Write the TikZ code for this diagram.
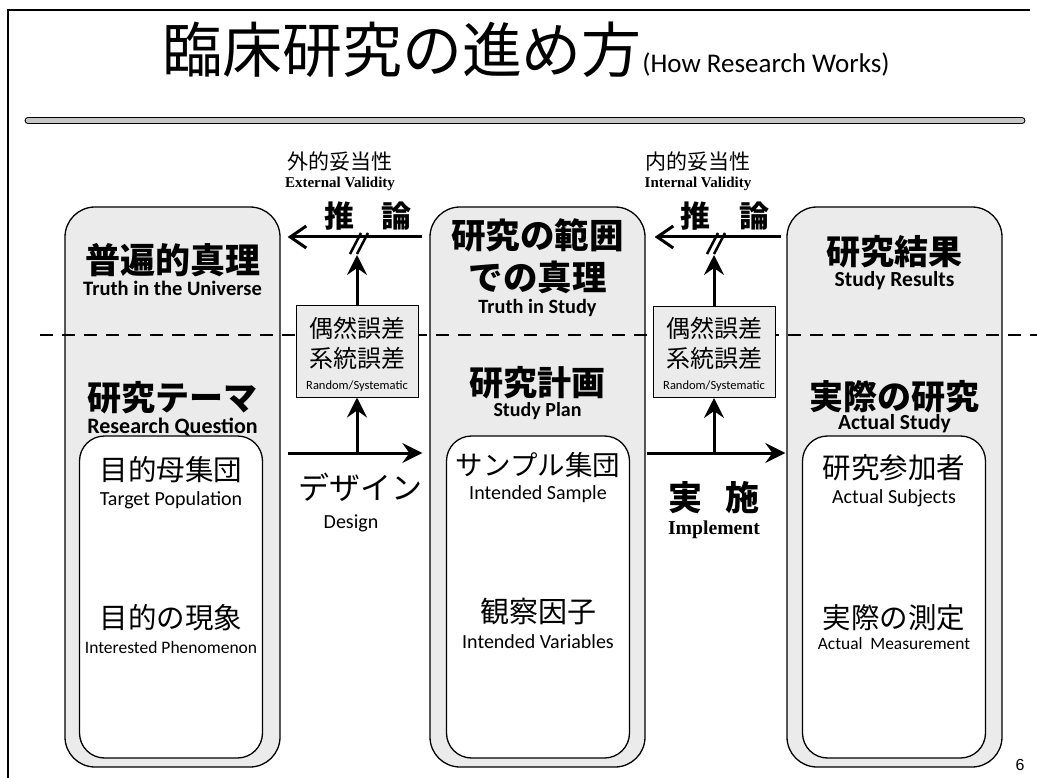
\documentclass[tikz,border=0pt]{standalone}
\usepackage{fontspec}
\setmainfont{Liberation Serif}
\newfontfamily\jpf{Noto Sans CJK JP}
\newfontfamily\carl{Carlito}
\newfontfamily\lsans{Liberation Sans}
\usetikzlibrary{arrows.meta}
\tikzset{
  bigbox/.style={draw, line width=1.3pt, rounded corners=30pt, fill=gray!16, minimum width=215pt, minimum height=560pt, inner sep=0pt},
  innerbox/.style={draw, line width=1.3pt, rounded corners=25pt, fill=white, minimum width=183pt, minimum height=322pt, inner sep=0pt},
  errbox/.style={draw, line width=1pt, fill=gray!16, minimum width=122pt, minimum height=91pt, inner sep=0pt},
  jpr/.style={inner sep=0pt, font={\jpf\fontsize{#1}{#1}\selectfont}},
  jpb/.style={inner sep=0pt, font={\jpf\bfseries\fontsize{#1}{#1}\selectfont}},
  enr/.style={inner sep=0pt, font={\carl\fontsize{#1}{#1}\selectfont}},
  enb/.style={inner sep=0pt, font={\carl\bfseries\fontsize{#1}{#1}\selectfont}},
  tmb/.style={inner sep=0pt, font={\bfseries\fontsize{#1}{#1}\selectfont}},
  toparr/.style={line width=3pt, -{Straight Barb[length=16pt,width=22pt,line width=3pt]}},
  arr/.style={line width=3pt, -{Stealth[length=20pt,width=20pt,inset=7pt]}},
  slash/.style={line width=2.5pt},
  frameline/.style={line width=2pt},
  dashline/.style={line width=2.5pt, dash pattern=on 13pt off 9pt}
}
\begin{document}
\begin{tikzpicture}[x=1pt,y=-1pt]
\useasboundingbox (0,0) rectangle (1037,778);
% frame
\draw[frameline] (8,778) -- (8,10) -- (1030,10);
% title
\node[jpr=60] (title) at (402,50) {臨床研究の進め方};
\node[enr=27, anchor=base west] (sub) at (title.base east) {(How Research Works)};
% double rule
\draw[double=gray!45, double distance=4.5pt, line width=1.2pt, line cap=round] (28,120.5) -- (1022,120.5);
% validity labels
\node[jpr=21] (ev) at (340,162) {外的妥当性};
\node[tmb=15] (evE) at (340,184) {External Validity};
\node[jpr=21] (iv) at (698,162) {内的妥当性};
\node[tmb=15] (ivE) at (698,184) {Internal Validity};
% big boxes
\node[bigbox] (L) at (172.5,487) {};
\node[bigbox] (M) at (537.5,487) {};
\node[bigbox] (R) at (894.5,487) {};
% inner boxes
\node[innerbox] (Li) at (171,597) {};
\node[innerbox] (Mi) at (538,597) {};
\node[innerbox] (Ri) at (894,597) {};
% dashed line
\draw[dashline] (40,335) -- (1037,335);
% error boxes
\node[errbox] (SL) at (357,351.5) {};
\node[errbox] (SR) at (714,352) {};
\node[jpr=24] (SL1) at (357,328) {偶然誤差};
\node[jpr=24] (SL2) at (357,358) {系統誤差};
\node[enr=12.5] (SL3) at (357,386) {Random/Systematic};
\node[jpr=24] (SR1) at (714,328) {偶然誤差};
\node[jpr=24] (SR2) at (714,358) {系統誤差};
\node[enr=12.5] (SR3) at (714,386) {Random/Systematic};
% left box texts
\node[jpb=35] (L1) at (172.5,260) {普遍的真理};
\node[enb=20.5] (L1e) at (172.5,288) {Truth in the Universe};
\node[jpb=34] (L2) at (172.5,398) {研究テーマ};
\node[enb=22] (L2e) at (172.5,427) {Research Question};
\node[jpr=28.5] (L3) at (171,470) {目的母集団};
\node[enr=20] (L3e) at (171,500) {Target Population};
\node[jpr=28.5] (L4) at (171,618) {目的の現象};
\node[enr=17.5] (L4e) at (171,647) {Interested Phenomenon};
% middle box texts
\node[jpb=34.5] (M1) at (537.5,235) {研究の範囲};
\node[jpb=34.5] (M1b) at (537.5,277) {での真理};
\node[enb=20.3] (M1e) at (537.5,308) {Truth in Study};
\node[jpb=34] (M2) at (537.5,383) {研究計画};
\node[enb=20] (M2e) at (537.5,411) {Study Plan};
\node[jpr=27.5] (M3) at (538,465) {サンプル集団};
\node[enr=20] (M3e) at (538,494) {Intended Sample};
\node[jpr=29] (M4) at (538,612) {観察因子};
\node[enr=20] (M4e) at (538,642) {Intended Variables};
% right box texts
\node[jpb=34] (R1) at (894.5,252) {研究結果};
\node[enb=21.5] (R1e) at (894.5,281) {Study Results};
\node[jpb=34] (R2) at (894.5,397) {実際の研究};
\node[enb=21.5] (R2e) at (894.5,424) {Actual Study};
\node[jpr=28.5] (R3) at (894,468) {研究参加者};
\node[enr=20] (R3e) at (894,498) {Actual Subjects};
\node[jpr=28.5] (R4) at (894,618) {実際の測定};
\node[enr=17.4] (R4e) at (894,644) {Actual\ \ Measurement};
% inference labels
\node[jpb=30] (inf1) at (368,216) {推\hspace{28pt}論};
\node[jpb=30] (inf2) at (725,216) {推\hspace{29pt}論};
% design / implement labels
\node[jpr=31] (des) at (360,487) {デザイン};
\node[enr=20] (desE) at (351,523) {Design};
\node[jpb=34] (imp) at (714,498) {実\hspace{24pt}施};
\node[tmb=19.7] (impE) at (714,530) {Implement};
% page number
\node[inner sep=0pt, font={\lsans\fontsize{16}{16}\selectfont}] (pg) at (1020,765) {6};
% coordinates
\coordinate (yTop) at (0,237);
\coordinate (yBot) at (0,453);
\coordinate (tipL) at (357,255);
\coordinate (tipR) at (714,255);
\coordinate (jL) at (357,453);
\coordinate (jR) at (714,453);
% top arrows (inference)
\draw[toparr, shorten <=7pt, shorten >=7pt] (M.west |- yTop) -- (L.east |- yTop);
\draw[toparr, shorten <=5pt, shorten >=9pt] (R.west |- yTop) -- (M.east |- yTop);
\draw[arr] (SL.north) -- (tipL);
\draw[arr] (SR.north) -- (tipR);
% break marks
\draw[slash] (350,254) -- (361,233);
\draw[slash] (357,254) -- (368,233);
\draw[slash] (707,254) -- (718,233);
\draw[slash] (714,254) -- (725,233);
% bottom arrows
\draw[arr, shorten <=7pt, shorten >=7pt] (L.east |- yBot) -- (M.west |- yBot);
\draw[arr, shorten <=1pt, shorten >=1pt] (M.east |- yBot) -- (R.west |- yBot);
\draw[arr] (jL) -- (SL.south);
\draw[arr] (jR) -- (SR.south);
\end{tikzpicture}
\end{document}
